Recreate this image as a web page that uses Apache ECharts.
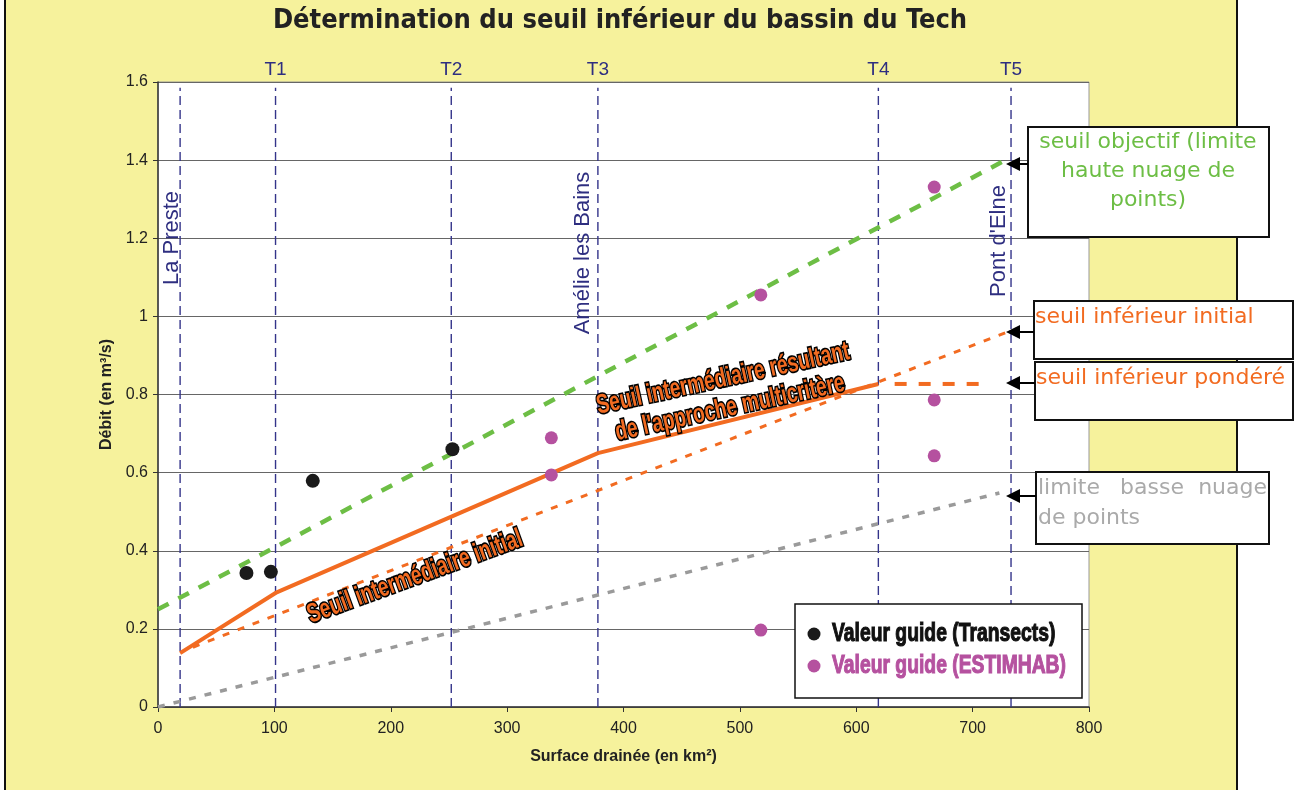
<!DOCTYPE html>
<html>
<head>
<meta charset="utf-8">
<script src="https://cdn.jsdelivr.net/npm/echarts@6/dist/echarts.min.js"></script>
<style>
html, body { margin: 0; padding: 0; background: #fff; }
#frame { position: absolute; left: 4px; top: 0; width: 1230px; height: 790px; background: #F6F29C;
         border-left: 2px solid #111; border-right: 2px solid #111; }
#chart { position: absolute; left: 0; top: 0; width: 1299px; height: 790px; }
</style>
</head>
<body>
<div id="frame"></div>
<div id="chart"></div>
<script>
// valeurs guides
var transectX = [76, 97, 133, 253];
var transectY = [0.343, 0.346, 0.579, 0.66];
var estimhabX = [338, 338, 518, 518, 667, 667, 667];
var estimhabY = [0.689, 0.594, 1.055, 0.197, 1.331, 0.786, 0.643];

// seuils
var objectifX = [0, 725];
var objectifY = [0.25, 1.395];
var initialX = [30, 728];
var initialY = [0.153, 0.958];
var interX = [19, 101, 378, 619];
var interY = [0.138, 0.292, 0.65, 0.827];
var pondereX = [633, 715];
var pondereY = [0.827, 0.827];
var basseX = [0, 723];
var basseY = [0, 0.548];

// stations / transects
var sectionX = [19, 101, 252, 378, 619, 733];
var sectionTag = ['', 'T1', 'T2', 'T3', 'T4', 'T5'];
var sectionName = ['La Preste', '', '', 'Amélie les Bains', '', "Pont d'Elne"];

var legendNames = ['Valeur guide (Transects)', 'Valeur guide (ESTIMHAB)'];

function zip(xs, ys) {
    return xs.map(function (x, i) { return [x, ys[i]]; });
}

var navy = '#34348A';
var orange = '#F26B21';
var green = '#6DBE45';
var magenta = '#B5519F';
var black = '#1A1A1A';
var sans = '"Liberation Sans", Arial, sans-serif';

var series = sectionX.map(function (x) {
    return {
        type: 'line', silent: true, symbol: 'none', z: 1,
        data: [[x, 0], [x, 1.585]],
        lineStyle: {color: navy, width: 1.4, type: [9, 5]}
    };
});
series.push(
    {type: 'line', symbol: 'none', z: 3, data: zip(basseX, basseY),
        lineStyle: {color: '#9A9A9A', width: 3.5, type: [7, 9]}},
    {type: 'line', symbol: 'none', z: 3, data: zip(objectifX, objectifY),
        lineStyle: {color: green, width: 4.5, type: [12, 11]}},
    {type: 'line', symbol: 'none', z: 3, data: zip(initialX, initialY),
        lineStyle: {color: orange, width: 3, type: [7, 9]}},
    {type: 'line', symbol: 'none', z: 3, data: zip(interX, interY),
        lineStyle: {color: orange, width: 4}},
    {type: 'line', symbol: 'none', z: 3, data: zip(pondereX, pondereY),
        lineStyle: {color: orange, width: 4, type: [12, 12]}},
    {name: legendNames[0], type: 'scatter', z: 5, symbolSize: 14,
        itemStyle: {color: black, opacity: 1}, data: zip(transectX, transectY)},
    {name: legendNames[1], type: 'scatter', z: 5, symbolSize: 13,
        itemStyle: {color: magenta, opacity: 1}, data: zip(estimhabX, estimhabY)}
);

var chart = echarts.init(document.getElementById('chart'));
chart.setOption({
    animation: false,
    backgroundColor: 'transparent',
    grid: {
        left: 158, right: 210, top: 82, bottom: 83,
        show: true, backgroundColor: '#fff', borderColor: '#999', borderWidth: 1
    },
    xAxis: {
        type: 'value', min: 0, max: 800, interval: 100,
        name: 'Surface drainée (en km²)', nameLocation: 'middle', nameGap: 42,
        nameTextStyle: {fontFamily: sans, fontWeight: 'bold', fontSize: 16, color: '#222'},
        axisLine: {lineStyle: {color: '#333', width: 1.5}},
        axisTick: {show: true, length: 5, lineStyle: {color: '#333'}},
        axisLabel: {fontFamily: sans, fontSize: 16, color: '#222', margin: 14},
        splitLine: {show: false}
    },
    yAxis: {
        type: 'value', min: 0, max: 1.6, interval: 0.2,
        name: 'Débit (en m³/s)', nameLocation: 'middle', nameGap: 42,
        nameTextStyle: {fontFamily: sans, fontWeight: 'bold', fontSize: 16, color: '#222'},
        axisLine: {show: true, lineStyle: {color: '#333', width: 1.5}},
        axisTick: {show: true, length: 5, lineStyle: {color: '#333'}},
        axisLabel: {fontFamily: sans, fontSize: 16, color: '#222', margin: 10},
        splitLine: {lineStyle: {color: '#666', width: 1.2}}
    },
    series: series
});

function px(x, y) {
    return chart.convertToPixel({gridIndex: 0}, [x, y]);
}

var g = [];
function text(opts) {
    opts.type = 'text';
    opts.z = 100;
    g.push(opts);
}
function rect(x, y, w, h, lw) {
    g.push({type: 'rect', z: 99, shape: {x: x, y: y, width: w, height: h},
        style: {fill: '#fff', stroke: '#111', lineWidth: lw}});
}
function arrow(x1, tip, y) {
    g.push({type: 'line', z: 100, shape: {x1: x1, y1: y, x2: tip + 10, y2: y},
        style: {stroke: '#000', lineWidth: 2}});
    g.push({type: 'polygon', z: 100, shape: {points: [[tip, y], [tip + 14, y - 7], [tip + 14, y + 7]]},
        style: {fill: '#000'}});
}

// titre
text({x: 620, y: 21, style: {text: 'Détermination du seuil inférieur du bassin du Tech',
    font: 'bold 27px "DejaVu Sans Condensed", "DejaVu Sans", sans-serif', fill: '#222',
    textAlign: 'center', textVerticalAlign: 'middle'}});

// repères T1..T5 et noms de stations
var nameY = [238, 0, 0, 253, 0, 241];
var nameDx = [3, 0, 0, -4, 0, -1];
sectionX.forEach(function (x, i) {
    var p = px(x, 1.6);
    if (sectionTag[i]) {
        text({x: p[0], y: p[1] - 12, style: {text: sectionTag[i], font: '19px ' + sans,
            fill: '#2E2E80', textAlign: 'center', textVerticalAlign: 'middle'}});
    }
    if (sectionName[i]) {
        text({x: p[0] + nameDx[i], y: nameY[i], rotation: Math.PI / 2,
            style: {text: sectionName[i], font: '22px ' + sans, fill: '#2E2E80',
                textAlign: 'center', textVerticalAlign: 'bottom'}});
    }
});

// étiquettes sur les courbes
function curveLabel(t, x, y, rot) {
    text({x: x, y: y, rotation: rot, scaleX: 0.8, scaleY: 1.12,
        style: {text: t, font: 'bold 24px ' + sans, fill: orange, stroke: '#000', lineWidth: 3,
            textAlign: 'center', textVerticalAlign: 'middle'}});
}
curveLabel('Seuil intermédiaire initial', 415, 577, 0.35);
curveLabel('Seuil intermédiaire résultant', 723, 379, 0.215);
curveLabel("de l'approche multicritère", 730, 408, 0.215);

// encadrés
var boxFont = '22px "DejaVu Sans", sans-serif';
rect(1028, 127, 241, 110, 2);
arrow(1028, 1006, 164);
['seuil objectif (limite', 'haute nuage de', 'points)'].forEach(function (t, i) {
    text({x: 1148, y: 142 + i * 29, style: {text: t, font: boxFont, fill: green,
        textAlign: 'center', textVerticalAlign: 'middle'}});
});
rect(1034, 301, 259, 58, 2);
arrow(1034, 1006, 332);
text({x: 1035, y: 317, style: {text: 'seuil inférieur initial', font: boxFont, fill: orange,
    textAlign: 'left', textVerticalAlign: 'middle'}});
rect(1035, 362, 258, 58, 2);
arrow(1035, 1006, 383);
text({x: 1036, y: 378, style: {text: 'seuil inférieur pondéré', font: boxFont, fill: orange,
    textAlign: 'left', textVerticalAlign: 'middle'}});
rect(1036, 472, 233, 72, 2);
arrow(1036, 1006, 496);
text({x: 1038, y: 488, style: {text: 'limite', font: boxFont, fill: '#AAAAAA', textAlign: 'left', textVerticalAlign: 'middle'}});
text({x: 1152, y: 488, style: {text: 'basse', font: boxFont, fill: '#AAAAAA', textAlign: 'center', textVerticalAlign: 'middle'}});
text({x: 1267, y: 488, style: {text: 'nuage', font: boxFont, fill: '#AAAAAA', textAlign: 'right', textVerticalAlign: 'middle'}});
text({x: 1038, y: 518, style: {text: 'de points', font: boxFont, fill: '#AAAAAA', textAlign: 'left', textVerticalAlign: 'middle'}});

// légende
rect(795, 604, 287, 94, 1.5);
[black, magenta].forEach(function (c, i) {
    var y = 634 + i * 32;
    var col = c === black ? '#111' : c;
    g.push({type: 'circle', z: 100, shape: {cx: 814, cy: y, r: 6.5}, style: {fill: c}});
    text({x: 832, y: y, scaleX: 0.84, scaleY: 1.1,
        style: {text: legendNames[i], font: 'bold 23px ' + sans, fill: col, stroke: col, lineWidth: 1,
            textAlign: 'left', textVerticalAlign: 'middle'}});
});

chart.setOption({graphic: {elements: g}});
</script>
</body>
</html>
